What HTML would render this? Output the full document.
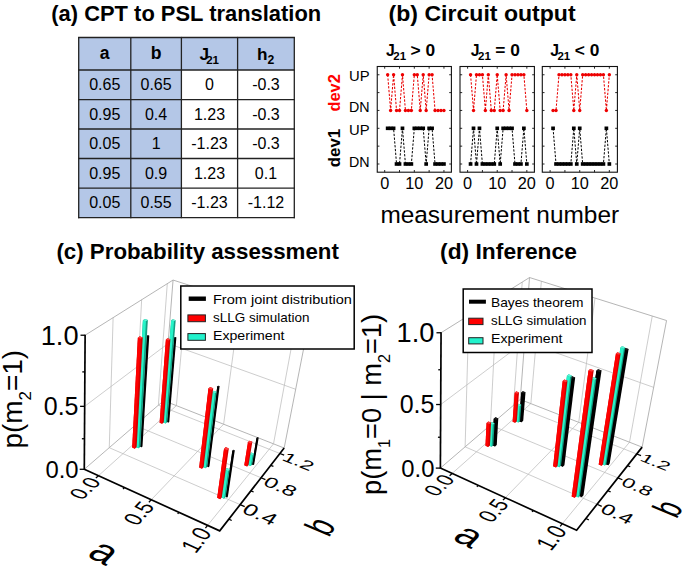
<!DOCTYPE html>
<html><head><meta charset="utf-8"><style>
html,body{margin:0;padding:0;background:#fff;}
svg{display:block;font-family:"Liberation Sans", sans-serif;}
</style></head><body>
<svg width="685" height="568" viewBox="0 0 685 568">
<rect width="685" height="568" fill="#fff"/>
<text x="51.3" y="21.2" font-size="22.2" font-weight="bold" text-anchor="start" fill="#000" textLength="269.9" lengthAdjust="spacingAndGlyphs">(a) CPT to PSL translation</text>
<text x="388.6" y="20.8" font-size="22.2" font-weight="bold" text-anchor="start" fill="#000" textLength="187" lengthAdjust="spacingAndGlyphs">(b) Circuit output</text>
<text x="56.4" y="259.1" font-size="22.2" font-weight="bold" text-anchor="start" fill="#000" textLength="282.5" lengthAdjust="spacingAndGlyphs">(c) Probability assessment</text>
<text x="440.1" y="259.1" font-size="22.2" font-weight="bold" text-anchor="start" fill="#000" textLength="136.8" lengthAdjust="spacingAndGlyphs">(d) Inference</text>
<rect x="78.7" y="37.5" width="215.60000000000002" height="32.5" fill="#b4c7e7"/>
<rect x="78.7" y="70.0" width="102.7" height="147.6" fill="#b4c7e7"/>
<line x1="78.7" y1="36.9" x2="78.7" y2="218.2" stroke="#222" stroke-width="1.3"/>
<line x1="130.8" y1="36.9" x2="130.8" y2="218.2" stroke="#222" stroke-width="1.3"/>
<line x1="181.4" y1="36.9" x2="181.4" y2="218.2" stroke="#222" stroke-width="1.3"/>
<line x1="237.6" y1="36.9" x2="237.6" y2="218.2" stroke="#222" stroke-width="1.3"/>
<line x1="294.3" y1="36.9" x2="294.3" y2="218.2" stroke="#222" stroke-width="1.3"/>
<line x1="78.1" y1="37.5" x2="294.9" y2="37.5" stroke="#222" stroke-width="1.3"/>
<line x1="78.1" y1="70" x2="294.9" y2="70" stroke="#222" stroke-width="1.3"/>
<line x1="78.1" y1="99.6" x2="294.9" y2="99.6" stroke="#222" stroke-width="1.3"/>
<line x1="78.1" y1="129" x2="294.9" y2="129" stroke="#222" stroke-width="1.3"/>
<line x1="78.1" y1="158.5" x2="294.9" y2="158.5" stroke="#222" stroke-width="1.3"/>
<line x1="78.1" y1="188.2" x2="294.9" y2="188.2" stroke="#222" stroke-width="1.3"/>
<line x1="78.1" y1="217.6" x2="294.9" y2="217.6" stroke="#222" stroke-width="1.3"/>
<text x="104.75" y="59.1" font-size="17.6" font-weight="bold" text-anchor="middle" fill="#000">a</text>
<text x="156.1" y="59" font-size="17.6" font-weight="bold" text-anchor="middle" fill="#000">b</text>
<text x="199.5" y="59.8" font-size="17.2" font-weight="bold" text-anchor="start" fill="#000">J</text>
<text x="206.2" y="63.5" font-size="11.6" font-weight="bold" text-anchor="start" fill="#000" textLength="12.8" lengthAdjust="spacingAndGlyphs">21</text>
<text x="257.1" y="59.8" font-size="17.2" font-weight="bold">h<tspan font-size="12.2" dy="3.7">2</tspan></text>
<text x="104.75" y="90" font-size="16" text-anchor="middle" fill="#000">0.65</text>
<text x="156.1" y="90" font-size="16" text-anchor="middle" fill="#000">0.65</text>
<text x="209.5" y="90" font-size="16" text-anchor="middle" fill="#000">0</text>
<text x="265.95" y="90" font-size="16" text-anchor="middle" fill="#000">-0.3</text>
<text x="104.75" y="119.6" font-size="16" text-anchor="middle" fill="#000">0.95</text>
<text x="156.1" y="119.6" font-size="16" text-anchor="middle" fill="#000">0.4</text>
<text x="209.5" y="119.6" font-size="16" text-anchor="middle" fill="#000">1.23</text>
<text x="265.95" y="119.6" font-size="16" text-anchor="middle" fill="#000">-0.3</text>
<text x="104.75" y="149" font-size="16" text-anchor="middle" fill="#000">0.05</text>
<text x="156.1" y="149" font-size="16" text-anchor="middle" fill="#000">1</text>
<text x="209.5" y="149" font-size="16" text-anchor="middle" fill="#000">-1.23</text>
<text x="265.95" y="149" font-size="16" text-anchor="middle" fill="#000">-0.3</text>
<text x="104.75" y="178.5" font-size="16" text-anchor="middle" fill="#000">0.95</text>
<text x="156.1" y="178.5" font-size="16" text-anchor="middle" fill="#000">0.9</text>
<text x="209.5" y="178.5" font-size="16" text-anchor="middle" fill="#000">1.23</text>
<text x="265.95" y="178.5" font-size="16" text-anchor="middle" fill="#000">0.1</text>
<text x="104.75" y="208.2" font-size="16" text-anchor="middle" fill="#000">0.05</text>
<text x="156.1" y="208.2" font-size="16" text-anchor="middle" fill="#000">0.55</text>
<text x="209.5" y="208.2" font-size="16" text-anchor="middle" fill="#000">-1.23</text>
<text x="265.95" y="208.2" font-size="16" text-anchor="middle" fill="#000">-1.12</text>
<rect x="377.25" y="66.5" width="74.15" height="105.7" fill="none" stroke="#111" stroke-width="1.1"/>
<line x1="384.7" y1="66.5" x2="384.7" y2="68.7" stroke="#111" stroke-width="0.9"/>
<line x1="384.7" y1="172.2" x2="384.7" y2="170" stroke="#111" stroke-width="0.9"/>
<line x1="399.51" y1="66.5" x2="399.51" y2="68.7" stroke="#111" stroke-width="0.9"/>
<line x1="399.51" y1="172.2" x2="399.51" y2="170" stroke="#111" stroke-width="0.9"/>
<line x1="414.32" y1="66.5" x2="414.32" y2="68.7" stroke="#111" stroke-width="0.9"/>
<line x1="414.32" y1="172.2" x2="414.32" y2="170" stroke="#111" stroke-width="0.9"/>
<line x1="429.13" y1="66.5" x2="429.13" y2="68.7" stroke="#111" stroke-width="0.9"/>
<line x1="429.13" y1="172.2" x2="429.13" y2="170" stroke="#111" stroke-width="0.9"/>
<line x1="443.94" y1="66.5" x2="443.94" y2="68.7" stroke="#111" stroke-width="0.9"/>
<line x1="443.94" y1="172.2" x2="443.94" y2="170" stroke="#111" stroke-width="0.9"/>
<line x1="377.25" y1="164" x2="379.45" y2="164" stroke="#111" stroke-width="0.9"/>
<line x1="451.4" y1="164" x2="449.2" y2="164" stroke="#111" stroke-width="0.9"/>
<line x1="377.25" y1="146.15" x2="379.45" y2="146.15" stroke="#111" stroke-width="0.9"/>
<line x1="451.4" y1="146.15" x2="449.2" y2="146.15" stroke="#111" stroke-width="0.9"/>
<line x1="377.25" y1="128.3" x2="379.45" y2="128.3" stroke="#111" stroke-width="0.9"/>
<line x1="451.4" y1="128.3" x2="449.2" y2="128.3" stroke="#111" stroke-width="0.9"/>
<line x1="377.25" y1="110.45" x2="379.45" y2="110.45" stroke="#111" stroke-width="0.9"/>
<line x1="451.4" y1="110.45" x2="449.2" y2="110.45" stroke="#111" stroke-width="0.9"/>
<line x1="377.25" y1="92.6" x2="379.45" y2="92.6" stroke="#111" stroke-width="0.9"/>
<line x1="451.4" y1="92.6" x2="449.2" y2="92.6" stroke="#111" stroke-width="0.9"/>
<line x1="377.25" y1="74.75" x2="379.45" y2="74.75" stroke="#111" stroke-width="0.9"/>
<line x1="451.4" y1="74.75" x2="449.2" y2="74.75" stroke="#111" stroke-width="0.9"/>
<path d="M387.66,74.75 L390.62,110.45 L393.59,74.75 L396.55,110.45 L399.51,110.45 L402.47,74.75 L405.43,110.45 L408.4,110.45 L411.36,110.45 L414.32,74.75 L417.28,74.75 L420.24,110.45 L423.21,74.75 L426.17,110.45 L429.13,74.75 L432.09,74.75 L435.05,110.45 L438.02,110.45 L440.98,110.45 L443.94,110.45" fill="none" stroke="#e80000" stroke-width="1.05" stroke-dasharray="2.3,1.5"/>
<circle cx="387.66" cy="74.75" r="1.7" fill="#ee0000"/>
<circle cx="390.62" cy="110.45" r="1.7" fill="#ee0000"/>
<circle cx="393.59" cy="74.75" r="1.7" fill="#ee0000"/>
<circle cx="396.55" cy="110.45" r="1.7" fill="#ee0000"/>
<circle cx="399.51" cy="110.45" r="1.7" fill="#ee0000"/>
<circle cx="402.47" cy="74.75" r="1.7" fill="#ee0000"/>
<circle cx="405.43" cy="110.45" r="1.7" fill="#ee0000"/>
<circle cx="408.4" cy="110.45" r="1.7" fill="#ee0000"/>
<circle cx="411.36" cy="110.45" r="1.7" fill="#ee0000"/>
<circle cx="414.32" cy="74.75" r="1.7" fill="#ee0000"/>
<circle cx="417.28" cy="74.75" r="1.7" fill="#ee0000"/>
<circle cx="420.24" cy="110.45" r="1.7" fill="#ee0000"/>
<circle cx="423.21" cy="74.75" r="1.7" fill="#ee0000"/>
<circle cx="426.17" cy="110.45" r="1.7" fill="#ee0000"/>
<circle cx="429.13" cy="74.75" r="1.7" fill="#ee0000"/>
<circle cx="432.09" cy="74.75" r="1.7" fill="#ee0000"/>
<circle cx="435.05" cy="110.45" r="1.7" fill="#ee0000"/>
<circle cx="438.02" cy="110.45" r="1.7" fill="#ee0000"/>
<circle cx="440.98" cy="110.45" r="1.7" fill="#ee0000"/>
<circle cx="443.94" cy="110.45" r="1.7" fill="#ee0000"/>
<path d="M387.66,128.3 L390.62,128.3 L393.59,128.3 L396.55,164 L399.51,164 L402.47,128.3 L405.43,164 L408.4,164 L411.36,164 L414.32,128.3 L417.28,128.3 L420.24,128.3 L423.21,128.3 L426.17,164 L429.13,128.3 L432.09,128.3 L435.05,164 L438.02,164 L440.98,164 L443.94,164" fill="none" stroke="#000" stroke-width="1.0" stroke-dasharray="2.3,1.5"/>
<rect x="385.81" y="126.5" width="3.7" height="3.6" fill="#000"/>
<rect x="388.77" y="126.5" width="3.7" height="3.6" fill="#000"/>
<rect x="391.74" y="126.5" width="3.7" height="3.6" fill="#000"/>
<rect x="394.7" y="162.2" width="3.7" height="3.6" fill="#000"/>
<rect x="397.66" y="162.2" width="3.7" height="3.6" fill="#000"/>
<rect x="400.62" y="126.5" width="3.7" height="3.6" fill="#000"/>
<rect x="403.58" y="162.2" width="3.7" height="3.6" fill="#000"/>
<rect x="406.55" y="162.2" width="3.7" height="3.6" fill="#000"/>
<rect x="409.51" y="162.2" width="3.7" height="3.6" fill="#000"/>
<rect x="412.47" y="126.5" width="3.7" height="3.6" fill="#000"/>
<rect x="415.43" y="126.5" width="3.7" height="3.6" fill="#000"/>
<rect x="418.39" y="126.5" width="3.7" height="3.6" fill="#000"/>
<rect x="421.36" y="126.5" width="3.7" height="3.6" fill="#000"/>
<rect x="424.32" y="162.2" width="3.7" height="3.6" fill="#000"/>
<rect x="427.28" y="126.5" width="3.7" height="3.6" fill="#000"/>
<rect x="430.24" y="126.5" width="3.7" height="3.6" fill="#000"/>
<rect x="433.2" y="162.2" width="3.7" height="3.6" fill="#000"/>
<rect x="436.17" y="162.2" width="3.7" height="3.6" fill="#000"/>
<rect x="439.13" y="162.2" width="3.7" height="3.6" fill="#000"/>
<rect x="442.09" y="162.2" width="3.7" height="3.6" fill="#000"/>
<text x="384.7" y="189.1" font-size="16.3" text-anchor="middle" fill="#000">0</text>
<text x="414.32" y="189.1" font-size="16.3" text-anchor="middle" fill="#000">10</text>
<text x="443.94" y="189.1" font-size="16.3" text-anchor="middle" fill="#000">20</text>
<rect x="460" y="66.5" width="74.4" height="105.7" fill="none" stroke="#111" stroke-width="1.1"/>
<line x1="467.6" y1="66.5" x2="467.6" y2="68.7" stroke="#111" stroke-width="0.9"/>
<line x1="467.6" y1="172.2" x2="467.6" y2="170" stroke="#111" stroke-width="0.9"/>
<line x1="482.41" y1="66.5" x2="482.41" y2="68.7" stroke="#111" stroke-width="0.9"/>
<line x1="482.41" y1="172.2" x2="482.41" y2="170" stroke="#111" stroke-width="0.9"/>
<line x1="497.22" y1="66.5" x2="497.22" y2="68.7" stroke="#111" stroke-width="0.9"/>
<line x1="497.22" y1="172.2" x2="497.22" y2="170" stroke="#111" stroke-width="0.9"/>
<line x1="512.03" y1="66.5" x2="512.03" y2="68.7" stroke="#111" stroke-width="0.9"/>
<line x1="512.03" y1="172.2" x2="512.03" y2="170" stroke="#111" stroke-width="0.9"/>
<line x1="526.84" y1="66.5" x2="526.84" y2="68.7" stroke="#111" stroke-width="0.9"/>
<line x1="526.84" y1="172.2" x2="526.84" y2="170" stroke="#111" stroke-width="0.9"/>
<line x1="460" y1="164" x2="462.2" y2="164" stroke="#111" stroke-width="0.9"/>
<line x1="534.4" y1="164" x2="532.2" y2="164" stroke="#111" stroke-width="0.9"/>
<line x1="460" y1="146.15" x2="462.2" y2="146.15" stroke="#111" stroke-width="0.9"/>
<line x1="534.4" y1="146.15" x2="532.2" y2="146.15" stroke="#111" stroke-width="0.9"/>
<line x1="460" y1="128.3" x2="462.2" y2="128.3" stroke="#111" stroke-width="0.9"/>
<line x1="534.4" y1="128.3" x2="532.2" y2="128.3" stroke="#111" stroke-width="0.9"/>
<line x1="460" y1="110.45" x2="462.2" y2="110.45" stroke="#111" stroke-width="0.9"/>
<line x1="534.4" y1="110.45" x2="532.2" y2="110.45" stroke="#111" stroke-width="0.9"/>
<line x1="460" y1="92.6" x2="462.2" y2="92.6" stroke="#111" stroke-width="0.9"/>
<line x1="534.4" y1="92.6" x2="532.2" y2="92.6" stroke="#111" stroke-width="0.9"/>
<line x1="460" y1="74.75" x2="462.2" y2="74.75" stroke="#111" stroke-width="0.9"/>
<line x1="534.4" y1="74.75" x2="532.2" y2="74.75" stroke="#111" stroke-width="0.9"/>
<path d="M470.56,74.75 L473.52,110.45 L476.49,74.75 L479.45,74.75 L482.41,74.75 L485.37,110.45 L488.33,74.75 L491.3,110.45 L494.26,110.45 L497.22,74.75 L500.18,110.45 L503.14,110.45 L506.11,74.75 L509.07,110.45 L512.03,74.75 L514.99,74.75 L517.95,74.75 L520.92,74.75 L523.88,74.75 L526.84,110.45" fill="none" stroke="#e80000" stroke-width="1.05" stroke-dasharray="2.3,1.5"/>
<circle cx="470.56" cy="74.75" r="1.7" fill="#ee0000"/>
<circle cx="473.52" cy="110.45" r="1.7" fill="#ee0000"/>
<circle cx="476.49" cy="74.75" r="1.7" fill="#ee0000"/>
<circle cx="479.45" cy="74.75" r="1.7" fill="#ee0000"/>
<circle cx="482.41" cy="74.75" r="1.7" fill="#ee0000"/>
<circle cx="485.37" cy="110.45" r="1.7" fill="#ee0000"/>
<circle cx="488.33" cy="74.75" r="1.7" fill="#ee0000"/>
<circle cx="491.3" cy="110.45" r="1.7" fill="#ee0000"/>
<circle cx="494.26" cy="110.45" r="1.7" fill="#ee0000"/>
<circle cx="497.22" cy="74.75" r="1.7" fill="#ee0000"/>
<circle cx="500.18" cy="110.45" r="1.7" fill="#ee0000"/>
<circle cx="503.14" cy="110.45" r="1.7" fill="#ee0000"/>
<circle cx="506.11" cy="74.75" r="1.7" fill="#ee0000"/>
<circle cx="509.07" cy="110.45" r="1.7" fill="#ee0000"/>
<circle cx="512.03" cy="74.75" r="1.7" fill="#ee0000"/>
<circle cx="514.99" cy="74.75" r="1.7" fill="#ee0000"/>
<circle cx="517.95" cy="74.75" r="1.7" fill="#ee0000"/>
<circle cx="520.92" cy="74.75" r="1.7" fill="#ee0000"/>
<circle cx="523.88" cy="74.75" r="1.7" fill="#ee0000"/>
<circle cx="526.84" cy="110.45" r="1.7" fill="#ee0000"/>
<path d="M470.56,164 L473.52,128.3 L476.49,164 L479.45,128.3 L482.41,164 L485.37,164 L488.33,164 L491.3,164 L494.26,164 L497.22,128.3 L500.18,164 L503.14,128.3 L506.11,128.3 L509.07,128.3 L512.03,128.3 L514.99,164 L517.95,164 L520.92,164 L523.88,128.3 L526.84,164" fill="none" stroke="#000" stroke-width="1.0" stroke-dasharray="2.3,1.5"/>
<rect x="468.71" y="162.2" width="3.7" height="3.6" fill="#000"/>
<rect x="471.67" y="126.5" width="3.7" height="3.6" fill="#000"/>
<rect x="474.64" y="162.2" width="3.7" height="3.6" fill="#000"/>
<rect x="477.6" y="126.5" width="3.7" height="3.6" fill="#000"/>
<rect x="480.56" y="162.2" width="3.7" height="3.6" fill="#000"/>
<rect x="483.52" y="162.2" width="3.7" height="3.6" fill="#000"/>
<rect x="486.48" y="162.2" width="3.7" height="3.6" fill="#000"/>
<rect x="489.45" y="162.2" width="3.7" height="3.6" fill="#000"/>
<rect x="492.41" y="162.2" width="3.7" height="3.6" fill="#000"/>
<rect x="495.37" y="126.5" width="3.7" height="3.6" fill="#000"/>
<rect x="498.33" y="162.2" width="3.7" height="3.6" fill="#000"/>
<rect x="501.29" y="126.5" width="3.7" height="3.6" fill="#000"/>
<rect x="504.26" y="126.5" width="3.7" height="3.6" fill="#000"/>
<rect x="507.22" y="126.5" width="3.7" height="3.6" fill="#000"/>
<rect x="510.18" y="126.5" width="3.7" height="3.6" fill="#000"/>
<rect x="513.14" y="162.2" width="3.7" height="3.6" fill="#000"/>
<rect x="516.1" y="162.2" width="3.7" height="3.6" fill="#000"/>
<rect x="519.07" y="162.2" width="3.7" height="3.6" fill="#000"/>
<rect x="522.03" y="126.5" width="3.7" height="3.6" fill="#000"/>
<rect x="524.99" y="162.2" width="3.7" height="3.6" fill="#000"/>
<text x="467.6" y="189.1" font-size="16.3" text-anchor="middle" fill="#000">0</text>
<text x="497.22" y="189.1" font-size="16.3" text-anchor="middle" fill="#000">10</text>
<text x="526.84" y="189.1" font-size="16.3" text-anchor="middle" fill="#000">20</text>
<rect x="542.3" y="66.5" width="75.1" height="105.7" fill="none" stroke="#111" stroke-width="1.1"/>
<line x1="550.1" y1="66.5" x2="550.1" y2="68.7" stroke="#111" stroke-width="0.9"/>
<line x1="550.1" y1="172.2" x2="550.1" y2="170" stroke="#111" stroke-width="0.9"/>
<line x1="564.91" y1="66.5" x2="564.91" y2="68.7" stroke="#111" stroke-width="0.9"/>
<line x1="564.91" y1="172.2" x2="564.91" y2="170" stroke="#111" stroke-width="0.9"/>
<line x1="579.72" y1="66.5" x2="579.72" y2="68.7" stroke="#111" stroke-width="0.9"/>
<line x1="579.72" y1="172.2" x2="579.72" y2="170" stroke="#111" stroke-width="0.9"/>
<line x1="594.53" y1="66.5" x2="594.53" y2="68.7" stroke="#111" stroke-width="0.9"/>
<line x1="594.53" y1="172.2" x2="594.53" y2="170" stroke="#111" stroke-width="0.9"/>
<line x1="609.34" y1="66.5" x2="609.34" y2="68.7" stroke="#111" stroke-width="0.9"/>
<line x1="609.34" y1="172.2" x2="609.34" y2="170" stroke="#111" stroke-width="0.9"/>
<line x1="542.3" y1="164" x2="544.5" y2="164" stroke="#111" stroke-width="0.9"/>
<line x1="617.4" y1="164" x2="615.2" y2="164" stroke="#111" stroke-width="0.9"/>
<line x1="542.3" y1="146.15" x2="544.5" y2="146.15" stroke="#111" stroke-width="0.9"/>
<line x1="617.4" y1="146.15" x2="615.2" y2="146.15" stroke="#111" stroke-width="0.9"/>
<line x1="542.3" y1="128.3" x2="544.5" y2="128.3" stroke="#111" stroke-width="0.9"/>
<line x1="617.4" y1="128.3" x2="615.2" y2="128.3" stroke="#111" stroke-width="0.9"/>
<line x1="542.3" y1="110.45" x2="544.5" y2="110.45" stroke="#111" stroke-width="0.9"/>
<line x1="617.4" y1="110.45" x2="615.2" y2="110.45" stroke="#111" stroke-width="0.9"/>
<line x1="542.3" y1="92.6" x2="544.5" y2="92.6" stroke="#111" stroke-width="0.9"/>
<line x1="617.4" y1="92.6" x2="615.2" y2="92.6" stroke="#111" stroke-width="0.9"/>
<line x1="542.3" y1="74.75" x2="544.5" y2="74.75" stroke="#111" stroke-width="0.9"/>
<line x1="617.4" y1="74.75" x2="615.2" y2="74.75" stroke="#111" stroke-width="0.9"/>
<path d="M553.06,110.45 L556.02,110.45 L558.99,74.75 L561.95,74.75 L564.91,74.75 L567.87,74.75 L570.83,74.75 L573.8,110.45 L576.76,74.75 L579.72,110.45 L582.68,74.75 L585.64,74.75 L588.61,74.75 L591.57,74.75 L594.53,74.75 L597.49,74.75 L600.45,74.75 L603.42,74.75 L606.38,110.45 L609.34,74.75" fill="none" stroke="#e80000" stroke-width="1.05" stroke-dasharray="2.3,1.5"/>
<circle cx="553.06" cy="110.45" r="1.7" fill="#ee0000"/>
<circle cx="556.02" cy="110.45" r="1.7" fill="#ee0000"/>
<circle cx="558.99" cy="74.75" r="1.7" fill="#ee0000"/>
<circle cx="561.95" cy="74.75" r="1.7" fill="#ee0000"/>
<circle cx="564.91" cy="74.75" r="1.7" fill="#ee0000"/>
<circle cx="567.87" cy="74.75" r="1.7" fill="#ee0000"/>
<circle cx="570.83" cy="74.75" r="1.7" fill="#ee0000"/>
<circle cx="573.8" cy="110.45" r="1.7" fill="#ee0000"/>
<circle cx="576.76" cy="74.75" r="1.7" fill="#ee0000"/>
<circle cx="579.72" cy="110.45" r="1.7" fill="#ee0000"/>
<circle cx="582.68" cy="74.75" r="1.7" fill="#ee0000"/>
<circle cx="585.64" cy="74.75" r="1.7" fill="#ee0000"/>
<circle cx="588.61" cy="74.75" r="1.7" fill="#ee0000"/>
<circle cx="591.57" cy="74.75" r="1.7" fill="#ee0000"/>
<circle cx="594.53" cy="74.75" r="1.7" fill="#ee0000"/>
<circle cx="597.49" cy="74.75" r="1.7" fill="#ee0000"/>
<circle cx="600.45" cy="74.75" r="1.7" fill="#ee0000"/>
<circle cx="603.42" cy="74.75" r="1.7" fill="#ee0000"/>
<circle cx="606.38" cy="110.45" r="1.7" fill="#ee0000"/>
<circle cx="609.34" cy="74.75" r="1.7" fill="#ee0000"/>
<path d="M553.06,128.3 L556.02,164 L558.99,164 L561.95,164 L564.91,164 L567.87,164 L570.83,164 L573.8,128.3 L576.76,164 L579.72,128.3 L582.68,164 L585.64,164 L588.61,164 L591.57,164 L594.53,164 L597.49,164 L600.45,164 L603.42,164 L606.38,128.3 L609.34,164" fill="none" stroke="#000" stroke-width="1.0" stroke-dasharray="2.3,1.5"/>
<rect x="551.21" y="126.5" width="3.7" height="3.6" fill="#000"/>
<rect x="554.17" y="162.2" width="3.7" height="3.6" fill="#000"/>
<rect x="557.14" y="162.2" width="3.7" height="3.6" fill="#000"/>
<rect x="560.1" y="162.2" width="3.7" height="3.6" fill="#000"/>
<rect x="563.06" y="162.2" width="3.7" height="3.6" fill="#000"/>
<rect x="566.02" y="162.2" width="3.7" height="3.6" fill="#000"/>
<rect x="568.98" y="162.2" width="3.7" height="3.6" fill="#000"/>
<rect x="571.95" y="126.5" width="3.7" height="3.6" fill="#000"/>
<rect x="574.91" y="162.2" width="3.7" height="3.6" fill="#000"/>
<rect x="577.87" y="126.5" width="3.7" height="3.6" fill="#000"/>
<rect x="580.83" y="162.2" width="3.7" height="3.6" fill="#000"/>
<rect x="583.79" y="162.2" width="3.7" height="3.6" fill="#000"/>
<rect x="586.76" y="162.2" width="3.7" height="3.6" fill="#000"/>
<rect x="589.72" y="162.2" width="3.7" height="3.6" fill="#000"/>
<rect x="592.68" y="162.2" width="3.7" height="3.6" fill="#000"/>
<rect x="595.64" y="162.2" width="3.7" height="3.6" fill="#000"/>
<rect x="598.6" y="162.2" width="3.7" height="3.6" fill="#000"/>
<rect x="601.57" y="162.2" width="3.7" height="3.6" fill="#000"/>
<rect x="604.53" y="126.5" width="3.7" height="3.6" fill="#000"/>
<rect x="607.49" y="162.2" width="3.7" height="3.6" fill="#000"/>
<text x="550.1" y="189.1" font-size="16.3" text-anchor="middle" fill="#000">0</text>
<text x="579.72" y="189.1" font-size="16.3" text-anchor="middle" fill="#000">10</text>
<text x="609.34" y="189.1" font-size="16.3" text-anchor="middle" fill="#000">20</text>
<text x="386.1" y="55.7" font-size="15.8" font-weight="bold" text-anchor="start" fill="#000">J</text>
<text x="393.3" y="59.9" font-size="10.8" font-weight="bold" text-anchor="start" fill="#000" textLength="12.8" lengthAdjust="spacingAndGlyphs">21</text>
<text x="410.6" y="55.7" font-size="15.8" font-weight="bold" text-anchor="start" fill="#000" textLength="24.6" lengthAdjust="spacingAndGlyphs">&gt; 0</text>
<text x="470.8" y="55.7" font-size="15.8" font-weight="bold" text-anchor="start" fill="#000">J</text>
<text x="478" y="59.9" font-size="10.8" font-weight="bold" text-anchor="start" fill="#000" textLength="12.8" lengthAdjust="spacingAndGlyphs">21</text>
<text x="495.3" y="55.7" font-size="15.8" font-weight="bold" text-anchor="start" fill="#000" textLength="24.6" lengthAdjust="spacingAndGlyphs">= 0</text>
<text x="550.2" y="55.7" font-size="15.8" font-weight="bold" text-anchor="start" fill="#000">J</text>
<text x="557.4" y="59.9" font-size="10.8" font-weight="bold" text-anchor="start" fill="#000" textLength="12.8" lengthAdjust="spacingAndGlyphs">21</text>
<text x="574.7" y="55.7" font-size="15.8" font-weight="bold" text-anchor="start" fill="#000" textLength="24.6" lengthAdjust="spacingAndGlyphs">&lt; 0</text>
<text x="369.6" y="81.2" font-size="15" text-anchor="end" fill="#000" textLength="20.6" lengthAdjust="spacingAndGlyphs">UP</text>
<text x="369.6" y="111.6" font-size="15" text-anchor="end" fill="#000" textLength="20.6" lengthAdjust="spacingAndGlyphs">DN</text>
<text x="369.6" y="135.2" font-size="15" text-anchor="end" fill="#000" textLength="20.6" lengthAdjust="spacingAndGlyphs">UP</text>
<text x="369.6" y="167.2" font-size="15" text-anchor="end" fill="#000" textLength="20.6" lengthAdjust="spacingAndGlyphs">DN</text>
<text transform="translate(340.2,92.9) rotate(-90)" font-size="16.2" font-weight="bold" fill="#ff0000" text-anchor="middle" textLength="37.4" lengthAdjust="spacingAndGlyphs">dev2</text>
<text transform="translate(340.2,148) rotate(-90)" font-size="16.2" font-weight="bold" fill="#000" text-anchor="middle" textLength="38.4" lengthAdjust="spacingAndGlyphs">dev1</text>
<text x="380.4" y="223.1" font-size="23.9" text-anchor="start" fill="#000" textLength="238.7" lengthAdjust="spacingAndGlyphs">measurement number</text>
<line x1="98.45" y1="475.73" x2="176.4" y2="405.63" stroke="#bcbcbc" stroke-width="0.75"/>
<line x1="151.27" y1="499.75" x2="223.62" y2="424.21" stroke="#bcbcbc" stroke-width="0.75"/>
<line x1="207.6" y1="525.37" x2="273.51" y2="443.84" stroke="#bcbcbc" stroke-width="0.75"/>
<line x1="109.25" y1="447.69" x2="240.14" y2="504.62" stroke="#bcbcbc" stroke-width="0.75"/>
<line x1="134.99" y1="425.42" x2="261.06" y2="477.74" stroke="#bcbcbc" stroke-width="0.75"/>
<line x1="158.37" y1="405.19" x2="279.92" y2="453.5" stroke="#bcbcbc" stroke-width="0.75"/>
<line x1="84.29" y1="469.29" x2="163.67" y2="400.61" stroke="#a2a2a2" stroke-width="0.8"/>
<line x1="163.67" y1="400.61" x2="284.17" y2="448.04" stroke="#a2a2a2" stroke-width="0.8"/>
<line x1="109.25" y1="447.69" x2="113.11" y2="317.65" stroke="#bcbcbc" stroke-width="0.75"/>
<line x1="134.99" y1="425.42" x2="141.65" y2="299.75" stroke="#bcbcbc" stroke-width="0.75"/>
<line x1="158.37" y1="405.19" x2="167.29" y2="283.67" stroke="#bcbcbc" stroke-width="0.75"/>
<line x1="84.67" y1="406.34" x2="168.11" y2="343.47" stroke="#bcbcbc" stroke-width="0.75"/>
<line x1="85.11" y1="335.22" x2="173.05" y2="280.06" stroke="#a2a2a2" stroke-width="0.8"/>
<line x1="163.67" y1="400.61" x2="173.05" y2="280.06" stroke="#a2a2a2" stroke-width="0.8"/>
<line x1="176.4" y1="405.63" x2="187.27" y2="284.63" stroke="#bcbcbc" stroke-width="0.75"/>
<line x1="223.62" y1="424.21" x2="240.2" y2="301.63" stroke="#bcbcbc" stroke-width="0.75"/>
<line x1="273.51" y1="443.84" x2="296.47" y2="319.71" stroke="#bcbcbc" stroke-width="0.75"/>
<line x1="168.11" y1="343.47" x2="295.68" y2="389.29" stroke="#bcbcbc" stroke-width="0.75"/>
<line x1="173.05" y1="280.06" x2="308.55" y2="323.59" stroke="#a2a2a2" stroke-width="0.8"/>
<line x1="284.17" y1="448.04" x2="308.55" y2="323.59" stroke="#a2a2a2" stroke-width="0.8"/>
<line x1="84.29" y1="469.89" x2="85.11" y2="334.82" stroke="#000" stroke-width="1.7"/>
<polyline points="84.29,469.29 219.71,530.88 284.17,448.04" fill="none" stroke="#000" stroke-width="1.7" stroke-linejoin="miter"/>
<line x1="79.69" y1="469.29" x2="84.29" y2="469.29" stroke="#000" stroke-width="1.3"/>
<line x1="81.88" y1="438.75" x2="84.48" y2="438.75" stroke="#000" stroke-width="1.3"/>
<line x1="80.07" y1="406.34" x2="84.67" y2="406.34" stroke="#000" stroke-width="1.3"/>
<line x1="82.28" y1="371.9" x2="84.88" y2="371.9" stroke="#000" stroke-width="1.3"/>
<line x1="80.51" y1="335.22" x2="85.11" y2="335.22" stroke="#000" stroke-width="1.3"/>
<line x1="98.45" y1="475.73" x2="95.89" y2="478.03" stroke="#000" stroke-width="1.3"/>
<line x1="124.45" y1="487.55" x2="123.03" y2="488.92" stroke="#000" stroke-width="1.3"/>
<line x1="151.27" y1="499.75" x2="148.89" y2="502.25" stroke="#000" stroke-width="1.3"/>
<line x1="178.97" y1="512.35" x2="177.67" y2="513.83" stroke="#000" stroke-width="1.3"/>
<line x1="207.6" y1="525.37" x2="205.41" y2="528.08" stroke="#000" stroke-width="1.3"/>
<line x1="228.81" y1="519.19" x2="231.71" y2="520.48" stroke="#000" stroke-width="1.3"/>
<line x1="240.14" y1="504.62" x2="244.7" y2="506.6" stroke="#000" stroke-width="1.3"/>
<line x1="250.88" y1="490.83" x2="253.66" y2="492.01" stroke="#000" stroke-width="1.3"/>
<line x1="261.06" y1="477.74" x2="265.43" y2="479.56" stroke="#000" stroke-width="1.3"/>
<line x1="270.73" y1="465.32" x2="273.4" y2="466.4" stroke="#000" stroke-width="1.3"/>
<line x1="279.92" y1="453.5" x2="284.12" y2="455.17" stroke="#000" stroke-width="1.3"/>
<polygon points="167.19,422.07 168.48,422.59 169.25,421.89 176.38,337.48 174.99,336.99 174.17,337.6" fill="#000000"/>
<polygon points="167.19,422.07 168.48,422.59 175.57,338.1 174.17,337.6" fill="#000000"/>
<polygon points="174.17,337.6 175.57,338.1 176.38,337.48 174.99,336.99" fill="#1a1a1a"/>
<polygon points="163.11,422.43 165.71,423.49 167.26,422.06 175.7,320.13 172.84,319.15 171.16,320.34" fill="#12a084"/>
<polygon points="163.11,422.43 165.71,423.49 174.02,321.33 171.16,320.34" fill="#26f4c8"/>
<polygon points="171.16,320.34 174.02,321.33 175.7,320.13 172.84,319.15" fill="#5cf7d8"/>
<polygon points="159.61,422.74 162.21,423.8 163.78,422.37 170.39,339.22 167.59,338.22 165.91,339.47" fill="#d00000"/>
<polygon points="159.61,422.74 162.21,423.8 168.72,340.47 165.91,339.47" fill="#ff0000"/>
<polygon points="165.91,339.47 168.72,340.47 170.39,339.22 167.59,338.22" fill="#ff3c3c"/>
<polygon points="140.29,446.72 141.63,447.29 142.49,446.5 149.26,335.79 147.77,335.26 146.84,335.92" fill="#000000"/>
<polygon points="140.29,446.72 141.63,447.29 148.33,336.46 146.84,335.92" fill="#000000"/>
<polygon points="146.84,335.92 148.33,336.46 149.26,335.79 147.77,335.26" fill="#1a1a1a"/>
<polygon points="135.94,447.14 138.64,448.3 140.37,446.71 147.87,319.99 144.84,318.93 142.91,320.22" fill="#12a084"/>
<polygon points="135.94,447.14 138.64,448.3 145.95,321.29 142.91,320.22" fill="#26f4c8"/>
<polygon points="142.91,320.22 145.95,321.29 147.87,319.99 144.84,318.93" fill="#5cf7d8"/>
<polygon points="132.2,447.51 134.9,448.67 136.65,447.07 142.75,337.4 139.77,336.32 137.85,337.66" fill="#d00000"/>
<polygon points="132.2,447.51 134.9,448.67 140.84,338.74 137.85,337.66" fill="#ff0000"/>
<polygon points="137.85,337.66 140.84,338.74 142.75,337.4 139.77,336.32" fill="#ff3c3c"/>
<polygon points="252.08,464.44 253.52,465.03 254.19,464.21 258.68,437.83 257.19,437.24 256.51,438.04" fill="#000000"/>
<polygon points="252.08,464.44 253.52,465.03 257.99,438.62 256.51,438.04" fill="#000000"/>
<polygon points="256.51,438.04 257.99,438.62 258.68,437.83 257.19,437.24" fill="#1a1a1a"/>
<polygon points="247.88,464.9 250.79,466.1 252.15,464.43 253.97,453.61 251.04,452.43 249.66,454.07" fill="#12a084"/>
<polygon points="247.88,464.9 250.79,466.1 252.6,455.26 249.66,454.07" fill="#26f4c8"/>
<polygon points="249.66,454.07 252.6,455.26 253.97,453.61 251.04,452.43" fill="#5cf7d8"/>
<polygon points="244.29,465.3 247.19,466.5 248.57,464.83 252.35,441.86 249.38,440.68 247.98,442.3" fill="#d00000"/>
<polygon points="244.29,465.3 247.19,466.5 250.96,443.49 247.98,442.3" fill="#ff0000"/>
<polygon points="247.98,442.3 250.96,443.49 252.35,441.86 249.38,440.68" fill="#ff3c3c"/>
<polygon points="207.25,466.59 208.68,467.19 209.44,466.35 219.61,386.3 218.06,385.72 217.26,386.48" fill="#000000"/>
<polygon points="207.25,466.59 208.68,467.19 218.81,387.05 217.26,386.48" fill="#000000"/>
<polygon points="217.26,386.48 218.81,387.05 219.61,386.3 218.06,385.72" fill="#1a1a1a"/>
<polygon points="202.91,467.06 205.79,468.28 207.33,466.58 216.68,391.8 213.59,390.63 211.96,392.16" fill="#12a084"/>
<polygon points="202.91,467.06 205.79,468.28 215.06,393.34 211.96,392.16" fill="#26f4c8"/>
<polygon points="211.96,392.16 215.06,393.34 216.68,391.8 213.59,390.63" fill="#5cf7d8"/>
<polygon points="199.2,467.47 202.07,468.69 203.62,466.99 213.19,388.24 210.09,387.08 208.44,388.6" fill="#d00000"/>
<polygon points="199.2,467.47 202.07,468.69 211.55,389.78 208.44,388.6" fill="#ff0000"/>
<polygon points="208.44,388.6 211.55,389.78 213.19,388.24 210.09,387.08" fill="#ff3c3c"/>
<polygon points="225.61,496.78 227.13,497.44 227.89,496.5 234.76,450.46 233.17,449.81 232.38,450.71" fill="#000000"/>
<polygon points="225.61,496.78 227.13,497.44 233.98,451.35 232.38,450.71" fill="#000000"/>
<polygon points="232.38,450.71 233.98,451.35 234.76,450.46 233.17,449.81" fill="#1a1a1a"/>
<polygon points="221.08,497.34 224.14,498.67 225.69,496.77 229.73,469.3 226.59,467.99 225,469.83" fill="#12a084"/>
<polygon points="221.08,497.34 224.14,498.67 228.15,471.15 225,469.83" fill="#26f4c8"/>
<polygon points="225,469.83 228.15,471.15 229.73,469.3 226.59,467.99" fill="#5cf7d8"/>
<polygon points="217.2,497.82 220.25,499.15 221.82,497.25 228.82,448.4 225.61,447.1 223.99,448.89" fill="#d00000"/>
<polygon points="217.2,497.82 220.25,499.15 227.2,450.21 223.99,448.89" fill="#ff0000"/>
<polygon points="223.99,448.89 227.2,450.21 228.82,448.4 225.61,447.1" fill="#ff3c3c"/>
<rect x="180.8" y="286" width="173.4" height="63" fill="#fff" stroke="#000" stroke-width="1.5"/>
<rect x="188.7" y="296.5" width="17.2" height="4.4" fill="#000"/>
<rect x="187.9" y="314.9" width="17.5" height="6.8" fill="#ff0000" stroke="#222" stroke-width="1"/>
<rect x="187.9" y="333.6" width="17.5" height="6.7" fill="#22f2cc" stroke="#222" stroke-width="1"/>
<text x="213" y="303.6" font-size="13" text-anchor="start" fill="#000" textLength="138.8" lengthAdjust="spacingAndGlyphs">From joint distribution</text>
<text x="213" y="321.8" font-size="13" text-anchor="start" fill="#000" textLength="96.5" lengthAdjust="spacingAndGlyphs">sLLG simulation</text>
<text x="213" y="340.3" font-size="13" text-anchor="start" fill="#000" textLength="71.5" lengthAdjust="spacingAndGlyphs">Experiment</text>
<line x1="452.12" y1="473.45" x2="530.87" y2="403.62" stroke="#bcbcbc" stroke-width="0.75"/>
<line x1="505.33" y1="497.71" x2="578.74" y2="422.34" stroke="#bcbcbc" stroke-width="0.75"/>
<line x1="562.33" y1="523.7" x2="629.5" y2="442.19" stroke="#bcbcbc" stroke-width="0.75"/>
<line x1="465.12" y1="446.84" x2="597.08" y2="504.26" stroke="#bcbcbc" stroke-width="0.75"/>
<line x1="490.45" y1="425.07" x2="617.89" y2="477.88" stroke="#bcbcbc" stroke-width="0.75"/>
<line x1="513.56" y1="405.21" x2="636.72" y2="454.01" stroke="#bcbcbc" stroke-width="0.75"/>
<line x1="440.37" y1="468.1" x2="520.25" y2="399.47" stroke="#a2a2a2" stroke-width="0.8"/>
<line x1="520.25" y1="399.47" x2="642.14" y2="447.13" stroke="#a2a2a2" stroke-width="0.8"/>
<line x1="465.12" y1="446.84" x2="468.8" y2="315.44" stroke="#bcbcbc" stroke-width="0.75"/>
<line x1="490.45" y1="425.07" x2="496.89" y2="297.9" stroke="#bcbcbc" stroke-width="0.75"/>
<line x1="513.56" y1="405.21" x2="522.23" y2="282.07" stroke="#bcbcbc" stroke-width="0.75"/>
<line x1="440.7" y1="404.52" x2="524.64" y2="341.64" stroke="#bcbcbc" stroke-width="0.75"/>
<line x1="441.06" y1="332.76" x2="529.52" y2="277.52" stroke="#a2a2a2" stroke-width="0.8"/>
<line x1="520.25" y1="399.47" x2="529.52" y2="277.52" stroke="#a2a2a2" stroke-width="0.8"/>
<line x1="530.87" y1="403.62" x2="541.37" y2="281.24" stroke="#bcbcbc" stroke-width="0.75"/>
<line x1="578.74" y1="422.34" x2="595" y2="298.07" stroke="#bcbcbc" stroke-width="0.75"/>
<line x1="629.5" y1="442.19" x2="652.25" y2="316.04" stroke="#bcbcbc" stroke-width="0.75"/>
<line x1="524.64" y1="341.64" x2="653.67" y2="387.36" stroke="#bcbcbc" stroke-width="0.75"/>
<line x1="529.52" y1="277.52" x2="666.56" y2="320.53" stroke="#a2a2a2" stroke-width="0.8"/>
<line x1="642.14" y1="447.13" x2="666.56" y2="320.53" stroke="#a2a2a2" stroke-width="0.8"/>
<line x1="440.37" y1="468.7" x2="441.06" y2="332.36" stroke="#000" stroke-width="1.7"/>
<polyline points="440.37,468.1 576.61,530.21 642.14,447.13" fill="none" stroke="#000" stroke-width="1.7" stroke-linejoin="miter"/>
<line x1="435.77" y1="468.1" x2="440.37" y2="468.1" stroke="#000" stroke-width="1.3"/>
<line x1="437.93" y1="437.24" x2="440.53" y2="437.24" stroke="#000" stroke-width="1.3"/>
<line x1="436.1" y1="404.52" x2="440.7" y2="404.52" stroke="#000" stroke-width="1.3"/>
<line x1="438.27" y1="369.76" x2="440.87" y2="369.76" stroke="#000" stroke-width="1.3"/>
<line x1="436.46" y1="332.76" x2="441.06" y2="332.76" stroke="#000" stroke-width="1.3"/>
<line x1="452.12" y1="473.45" x2="449.6" y2="475.68" stroke="#000" stroke-width="1.3"/>
<line x1="478.27" y1="485.38" x2="476.88" y2="486.7" stroke="#000" stroke-width="1.3"/>
<line x1="505.33" y1="497.71" x2="502.97" y2="500.13" stroke="#000" stroke-width="1.3"/>
<line x1="533.33" y1="510.48" x2="532.04" y2="511.92" stroke="#000" stroke-width="1.3"/>
<line x1="562.33" y1="523.7" x2="560.16" y2="526.33" stroke="#000" stroke-width="1.3"/>
<line x1="585.84" y1="518.51" x2="588.8" y2="519.83" stroke="#000" stroke-width="1.3"/>
<line x1="597.08" y1="504.26" x2="601.73" y2="506.28" stroke="#000" stroke-width="1.3"/>
<line x1="607.75" y1="490.73" x2="610.6" y2="491.94" stroke="#000" stroke-width="1.3"/>
<line x1="617.89" y1="477.88" x2="622.36" y2="479.73" stroke="#000" stroke-width="1.3"/>
<line x1="627.53" y1="465.65" x2="630.27" y2="466.76" stroke="#000" stroke-width="1.3"/>
<line x1="636.72" y1="454.01" x2="641.02" y2="455.71" stroke="#000" stroke-width="1.3"/>
<polygon points="519.05,421.18 521.69,422.24 523.22,420.85 525.52,392.18 522.82,391.14 521.25,392.47" fill="#000000"/>
<polygon points="519.05,421.18 521.69,422.24 523.95,393.51 521.25,392.47" fill="#000000"/>
<polygon points="521.25,392.47 523.95,393.51 525.52,392.18 522.82,391.14" fill="#1a1a1a"/>
<polygon points="515.85,421.43 518.48,422.5 520.03,421.1 521.28,404.85 518.62,403.8 517.05,405.16" fill="#12a084"/>
<polygon points="515.85,421.43 518.48,422.5 519.72,406.21 517.05,405.16" fill="#26f4c8"/>
<polygon points="517.05,405.16 519.72,406.21 521.28,404.85 518.62,403.8" fill="#5cf7d8"/>
<polygon points="512.64,421.68 515.27,422.75 516.83,421.35 518.98,392.39 516.29,391.34 514.69,392.68" fill="#d00000"/>
<polygon points="512.64,421.68 515.27,422.75 517.39,393.73 514.69,392.68" fill="#ff0000"/>
<polygon points="514.69,392.68 517.39,393.73 518.98,392.39 516.29,391.34" fill="#ff3c3c"/>
<polygon points="492.32,445.26 495.05,446.43 496.75,444.88 498.27,418.46 495.47,417.32 493.73,418.81" fill="#000000"/>
<polygon points="492.32,445.26 495.05,446.43 496.53,419.96 493.73,418.81" fill="#000000"/>
<polygon points="493.73,418.81 496.53,419.96 498.27,418.46 495.47,417.32" fill="#1a1a1a"/>
<polygon points="488.91,445.56 491.64,446.72 493.35,445.17 494.54,423.23 491.77,422.08 490.01,423.58" fill="#12a084"/>
<polygon points="488.91,445.56 491.64,446.72 492.8,424.73 490.01,423.58" fill="#26f4c8"/>
<polygon points="490.01,423.58 492.8,424.73 494.54,423.23 491.77,422.08" fill="#5cf7d8"/>
<polygon points="485.5,445.85 488.22,447.02 489.95,445.47 491.12,422.53 488.34,421.38 486.57,422.88" fill="#d00000"/>
<polygon points="485.5,445.85 488.22,447.02 489.36,424.04 486.57,422.88" fill="#ff0000"/>
<polygon points="486.57,422.88 489.36,424.04 491.12,422.53 488.34,421.38" fill="#ff3c3c"/>
<polygon points="605.36,463.98 608.32,465.19 609.67,463.56 628.59,349.08 625.27,347.96 623.83,349.34" fill="#000000"/>
<polygon points="605.36,463.98 608.32,465.19 627.16,350.46 623.83,349.34" fill="#000000"/>
<polygon points="623.83,349.34 627.16,350.46 628.59,349.08 625.27,347.96" fill="#1a1a1a"/>
<polygon points="602.04,464.3 605,465.51 606.37,463.88 625.27,347.28 621.95,346.16 620.49,347.54" fill="#12a084"/>
<polygon points="602.04,464.3 605,465.51 623.82,348.66 620.49,347.54" fill="#26f4c8"/>
<polygon points="620.49,347.54 623.82,348.66 625.27,347.28 621.95,346.16" fill="#5cf7d8"/>
<polygon points="598.71,464.62 601.67,465.84 603.05,464.2 620.66,353.46 617.36,352.33 615.9,353.72" fill="#d00000"/>
<polygon points="598.71,464.62 601.67,465.84 619.2,354.86 615.9,353.72" fill="#ff0000"/>
<polygon points="615.9,353.72 619.2,354.86 620.66,353.46 617.36,352.33" fill="#ff3c3c"/>
<polygon points="559.97,465.6 562.89,466.83 564.41,465.17 575.17,377.39 572,376.23 570.38,377.7" fill="#000000"/>
<polygon points="559.97,465.6 562.89,466.83 573.57,378.86 570.38,377.7" fill="#000000"/>
<polygon points="570.38,377.7 573.57,378.86 575.17,377.39 572,376.23" fill="#1a1a1a"/>
<polygon points="556.56,465.93 559.48,467.16 561.01,465.5 571.77,375.42 568.59,374.26 566.95,375.73" fill="#12a084"/>
<polygon points="556.56,465.93 559.48,467.16 570.14,376.89 566.95,375.73" fill="#26f4c8"/>
<polygon points="566.95,375.73 570.14,376.89 571.77,375.42 568.59,374.26" fill="#5cf7d8"/>
<polygon points="553.14,466.25 556.05,467.49 557.6,465.83 567.49,380.74 564.33,379.58 562.68,381.05" fill="#d00000"/>
<polygon points="553.14,466.25 556.05,467.49 565.85,382.23 562.68,381.05" fill="#ff0000"/>
<polygon points="562.68,381.05 565.85,382.23 567.49,380.74 564.33,379.58" fill="#ff3c3c"/>
<polygon points="578.85,495.65 581.96,497 583.49,495.15 601.55,370.4 598.04,369.15 596.38,370.72" fill="#000000"/>
<polygon points="578.85,495.65 581.96,497 599.9,371.98 596.38,370.72" fill="#000000"/>
<polygon points="596.38,370.72 599.9,371.98 601.55,370.4 598.04,369.15" fill="#1a1a1a"/>
<polygon points="575.28,496.04 578.39,497.39 579.94,495.54 596.51,378.28 593.02,377.02 591.35,378.61" fill="#12a084"/>
<polygon points="575.28,496.04 578.39,497.39 594.85,379.88 591.35,378.61" fill="#26f4c8"/>
<polygon points="591.35,378.61 594.85,379.88 596.51,378.28 593.02,377.02" fill="#5cf7d8"/>
<polygon points="571.7,496.42 574.81,497.78 576.37,495.92 593.72,370.14 590.21,368.89 588.51,370.46" fill="#d00000"/>
<polygon points="571.7,496.42 574.81,497.78 592.03,371.72 588.51,370.46" fill="#ff0000"/>
<polygon points="588.51,370.46 592.03,371.72 593.72,370.14 590.21,368.89" fill="#ff3c3c"/>
<rect x="463.2" y="289" width="128.8" height="63.5" fill="#fff" stroke="#000" stroke-width="1.5"/>
<rect x="469" y="299.7" width="16.9" height="4" fill="#000"/>
<rect x="468.7" y="318.2" width="14.3" height="6.4" fill="#ff0000" stroke="#222" stroke-width="1"/>
<rect x="468.7" y="337.7" width="14.3" height="6.2" fill="#22f2cc" stroke="#222" stroke-width="1"/>
<text x="491" y="306.9" font-size="13" text-anchor="start" fill="#000" textLength="92.5" lengthAdjust="spacingAndGlyphs">Bayes theorem</text>
<text x="491" y="325.4" font-size="13" text-anchor="start" fill="#000" textLength="95.5" lengthAdjust="spacingAndGlyphs">sLLG simulation</text>
<text x="491" y="343.3" font-size="13" text-anchor="start" fill="#000" textLength="71.5" lengthAdjust="spacingAndGlyphs">Experiment</text>
<text x="78.5" y="477.74" font-size="23.8" text-anchor="end" fill="#000">0.0</text>
<text x="78.5" y="415.22" font-size="25" text-anchor="end" fill="#000">0.5</text>
<text x="78.5" y="344.87" font-size="27.2" text-anchor="end" fill="#000">1.0</text>
<text x="434.4" y="476.55" font-size="23.8" text-anchor="end" fill="#000">0.0</text>
<text x="434.4" y="413.39" font-size="25" text-anchor="end" fill="#000">0.5</text>
<text x="434.4" y="342.42" font-size="27.2" text-anchor="end" fill="#000">1.0</text>
<text transform="translate(21.5,448.6) rotate(-90)" font-size="28" textLength="98.6" lengthAdjust="spacingAndGlyphs">p(m<tspan font-size="17" dy="9.5">2</tspan><tspan dy="-9.5">=1)</tspan></text>
<text transform="translate(380.5,495.0) rotate(-90)" font-size="27" textLength="181.2" lengthAdjust="spacingAndGlyphs">p(m<tspan font-size="16" dy="9">1</tspan><tspan dy="-9">=0 | m</tspan><tspan font-size="16" dy="9">2</tspan><tspan dy="-9">=1)</tspan></text>
<text transform="matrix(0.14192,-0.13016,0.20120,0.09213,101.81455,482.36088)" font-size="100" text-anchor="end" fill="#000" y="0">0.0</text>
<text transform="matrix(0.13211,-0.14100,0.21448,0.09822,155.35432,506.87821)" font-size="100" text-anchor="end" fill="#000" y="0">0.5</text>
<text transform="matrix(0.12063,-0.15302,0.22913,0.10493,212.49031,533.04234)" font-size="100" text-anchor="end" fill="#000" y="0">1.0</text>
<text transform="matrix(0.22462,0.09862,-0.10876,0.14204,240.83431,512.24802)" font-size="100" text-anchor="start" fill="#000" y="0">0.4</text>
<text transform="matrix(0.21541,0.09017,-0.09769,0.12759,261.97806,484.63283)" font-size="100" text-anchor="start" fill="#000" y="0">0.8</text>
<text transform="matrix(0.20687,0.08288,-0.08823,0.11523,281.02195,459.76021)" font-size="100" text-anchor="start" fill="#000" y="0">1.2</text>
<text transform="matrix(0.36497,0.18521,-0.26121,0.27432,95.87010,560.95557)" font-size="100" text-anchor="middle" fill="#000" y="0">a</text>
<text transform="matrix(0.12944,-0.22674,0.36352,0.15558,332.62061,531.79755)" font-size="100" text-anchor="middle" fill="#000" y="0">b</text>
<text transform="matrix(0.13941,-0.12601,0.20224,0.09280,455.84685,479.75994)" font-size="100" text-anchor="end" fill="#000" y="0">0.0</text>
<text transform="matrix(0.13034,-0.13676,0.21652,0.09936,509.77913,504.50863)" font-size="100" text-anchor="end" fill="#000" y="0">0.5</text>
<text transform="matrix(0.11958,-0.14877,0.23237,0.10663,567.59034,531.03729)" font-size="100" text-anchor="end" fill="#000" y="0">1.0</text>
<text transform="matrix(0.21387,0.09391,-0.10045,0.12976,598.98100,511.84438)" font-size="100" text-anchor="start" fill="#000" y="0">0.4</text>
<text transform="matrix(0.20561,0.08594,-0.09058,0.11701,619.94512,484.76227)" font-size="100" text-anchor="start" fill="#000" y="0">0.8</text>
<text transform="matrix(0.19791,0.07902,-0.08210,0.10606,638.89835,460.27789)" font-size="100" text-anchor="start" fill="#000" y="0">1.2</text>
<text transform="matrix(0.35995,0.17942,-0.24485,0.25186,461.29033,543.95153)" font-size="100" text-anchor="middle" fill="#000" y="0">a</text>
<text transform="matrix(0.12971,-0.20872,0.35938,0.15093,680.04595,513.46119)" font-size="100" text-anchor="middle" fill="#000" y="0">b</text>
</svg></body></html>
